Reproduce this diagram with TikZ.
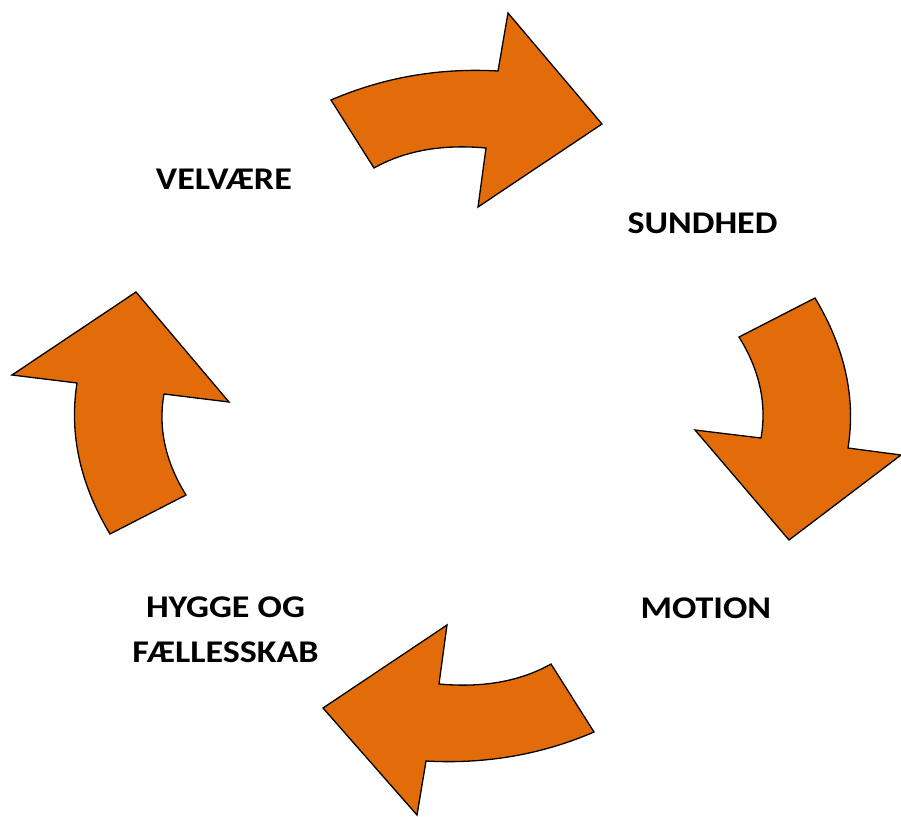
\documentclass[tikz,border=0pt]{standalone}
\usepackage{fontspec}
\setmainfont{Carlito}[FakeStretch=1.14]
\begin{document}
\begin{tikzpicture}[x=1pt,y=-1pt,
  cyclearrow/.style={fill=arrowfill,draw=black,line width=1.3pt,line join=miter},
  lbl/.style={font=\fontsize{31.6}{45}\selectfont\bfseries,inner sep=0pt,align=center}]
\definecolor{arrowfill}{HTML}{E26C0A}
\useasboundingbox (0,0) rectangle (901,816);
% top arrow
\draw[cyclearrow] (331,100) .. controls (383.7,77.3) and (439.3,67.7) .. (498,71) -- (508,13) -- (602,124) -- (478,207) -- (486,148) .. controls (442,144) and (404.7,150.7) .. (374,168) -- cycle;
% right arrow
\draw[cyclearrow] (815,298) -- (739,337) .. controls (759.7,370.3) and (767,404) .. (761,438) -- (695,430) -- (789,540) -- (901,455) -- (848,448) .. controls (856,398) and (845,348) .. cycle;
% bottom arrow
\draw[cyclearrow] (594,732) .. controls (541.3,754.7) and (485.3,764.3) .. (426,761) -- (417,815) -- (323,708) -- (447,625) -- (439,684) .. controls (483,688) and (520.3,681.3) .. (551,664) -- cycle;
% left arrow
\draw[cyclearrow] (110,534) -- (186,495) .. controls (165.3,461.7) and (158,428) .. (164,394) -- (229,402) -- (136,292) -- (12,375) -- (77,383) .. controls (69,433.7) and (80,484) .. cycle;
\node[lbl] (velvaere) at (223.9,179.3) {VELVÆRE};
\node[lbl] (sundhed) at (702.5,223.7) {SUNDHED};
\node[lbl] (motion) at (705.8,608.3) {MOTION};
\node[lbl] (hygge) at (225.5,630) {HYGGE OG\\FÆLLESSKAB};
\end{tikzpicture}
\end{document}
